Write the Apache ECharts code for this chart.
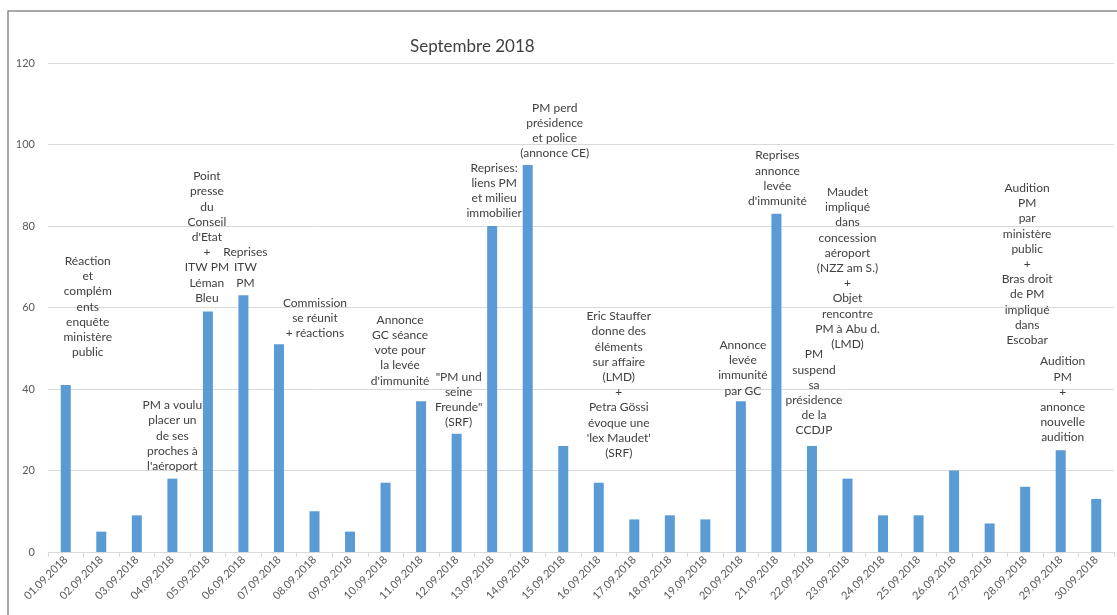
<!DOCTYPE html>
<html>
<head>
<meta charset="utf-8">
<script src="https://cdn.jsdelivr.net/npm/echarts@6/dist/echarts.min.js"></script>
<style>
  html, body { margin: 0; padding: 0; background: #fff; }
  #main { width: 1117px; height: 615px; }
</style>
</head>
<body>
<div id="main"></div>
<script>
const dates = [
  '01.09.2018', '02.09.2018', '03.09.2018', '04.09.2018', '05.09.2018',
  '06.09.2018', '07.09.2018', '08.09.2018', '09.09.2018', '10.09.2018',
  '11.09.2018', '12.09.2018', '13.09.2018', '14.09.2018', '15.09.2018',
  '16.09.2018', '17.09.2018', '18.09.2018', '19.09.2018', '20.09.2018',
  '21.09.2018', '22.09.2018', '23.09.2018', '24.09.2018', '25.09.2018',
  '26.09.2018', '27.09.2018', '28.09.2018', '29.09.2018', '30.09.2018'
];
const counts = [41, 5, 9, 18, 59, 63, 51, 10, 5, 17, 37, 29, 80, 95, 26,
  17, 8, 9, 8, 37, 83, 26, 18, 9, 9, 20, 7, 16, 25, 13];
const yTicks = [0, 20, 40, 60, 80, 100, 120];

// annotation text per day ('' = none)
const notes = [
  'Réaction\net\ncomplém\nents\nenquête\nministère\npublic',
  '', '',
  'PM a voulu\nplacer un\nde ses\nproches à\nl\'aéroport',
  'Point\npresse\ndu\nConseil\nd\'Etat\n+\nITW PM\nLéman\nBleu',
  'Reprises\nITW\nPM',
  'Commission\nse réunit\n+ réactions',
  '', '', '',
  'Annonce\nGC séance\nvote pour\nla levée\nd\'immunité',
  '"PM und\nseine\nFreunde"\n(SRF)',
  'Reprises:\nliens PM\net milieu\nimmobilier',
  'PM perd\nprésidence\net police\n(annonce CE)',
  '',
  'Eric Stauffer\ndonne des\néléments\nsur affaire\n(LMD)\n+\nPetra Gössi\névoque une\n\'lex Maudet\'\n(SRF)',
  '', '', '',
  'Annonce\nlevée\nimmunité\npar GC',
  'Reprises\nannonce\nlevée\nd\'immunité',
  'PM\nsuspend\nsa\nprésidence\nde la\nCCDJP',
  'Maudet\nimpliqué\ndans\nconcession\naéroport\n(NZZ am S.)\n+\nObjet\nrencontre\nPM à Abu d.\n(LMD)',
  '', '', '', '',
  'Audition\nPM\npar\nministère\npublic\n+\nBras droit\nde PM\nimpliqué\ndans\nEscobar',
  'Audition\nPM\n+\nannonce\nnouvelle\naudition',
  ''
];

// where each note sits relative to its bar top (layout only)
const noteOffsets = {
  0: [22, -25], 3: [0, -5], 4: [-1, -6], 5: [2, -5], 6: [36, -3],
  10: [-21, -13], 11: [2, -4], 12: [2, -5], 13: [27, -4], 15: [20, -22],
  19: [2, -3], 20: [1, -5], 21: [2, -8], 22: [0, -127], 27: [2, -139],
  28: [2, -5]
};

const chart = echarts.init(document.getElementById('main'));
const font = 'Lato, "Open Sans", sans-serif';

const barData = counts.map((v, i) => {
  if (!notes[i]) return v;
  return {
    value: v,
    label: {
      show: true,
      position: 'top',
      distance: 0,
      offset: noteOffsets[i] || [0, -5],
      formatter: notes[i],
      align: 'center',
      lineHeight: 15.2,
      fontSize: 12,
      fontFamily: font,
      color: '#404040'
    }
  };
});

chart.setOption({
  animation: false,
  title: {
    text: 'Septembre 2018',
    left: 405,
    top: 33,
    textStyle: { fontFamily: font, fontSize: 17, fontWeight: 'normal', color: '#404040' }
  },
  graphic: [{
    type: 'rect',
    shape: { x: 8, y: 11, width: 1140, height: 640 },
    style: { fill: 'none', stroke: '#8c8c8c', lineWidth: 1.5 },
    silent: true
  }],
  grid: { left: 48, right: 3, top: 63, bottom: 63 },
  xAxis: {
    type: 'category',
    data: dates,
    axisLine: { lineStyle: { color: '#d9d9d9' } },
    axisTick: { show: true, length: 5, lineStyle: { color: '#d9d9d9' } },
    axisLabel: {
      rotate: 45,
      interval: 0,
      margin: 6,
      fontSize: 11,
      fontFamily: font,
      color: '#595959'
    }
  },
  yAxis: {
    type: 'value',
    min: yTicks[0],
    max: yTicks[yTicks.length - 1],
    interval: yTicks[1] - yTicks[0],
    axisLine: { show: false },
    axisTick: { show: false },
    splitLine: { lineStyle: { color: '#d9d9d9' } },
    axisLabel: { margin: 13, fontSize: 11, fontFamily: font, color: '#595959' }
  },
  series: [{
    type: 'bar',
    data: barData,
    barWidth: 10,
    itemStyle: { color: '#5b9bd5' }
  }]
});
</script>
</body>
</html>
